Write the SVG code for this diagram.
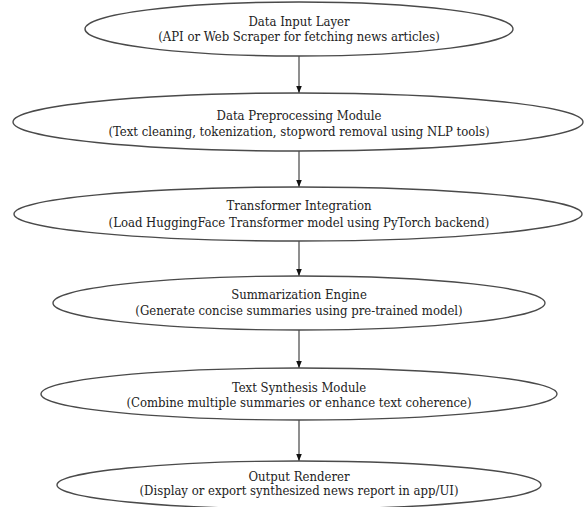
<svg xmlns="http://www.w3.org/2000/svg" width="584" height="507" viewBox="0 0 584 507">
<defs>
<style>
.node ellipse{fill:#fff;stroke:#4a4a4a;stroke-width:1.4}
.node text{font-family:"DejaVu Serif","Liberation Serif",serif;font-stretch:condensed;font-size:13px;fill:#222;text-anchor:middle}
.edges line{stroke:#333;stroke-width:1.1}
</style>
<marker id="ah" viewBox="0 0 10 10" refX="10" refY="5" markerWidth="7" markerHeight="7" markerUnits="userSpaceOnUse" orient="auto">
<path d="M0,1 L10,5 L0,9 Z" fill="#111"/>
</marker>
</defs>
<rect width="584" height="507" fill="#fff"/>
<g class="edges">
<line x1="299" y1="56" x2="299" y2="93" marker-end="url(#ah)"/>
<line x1="299" y1="151" x2="299" y2="187" marker-end="url(#ah)"/>
<line x1="299" y1="241" x2="299" y2="276" marker-end="url(#ah)"/>
<line x1="299" y1="330" x2="299" y2="368" marker-end="url(#ah)"/>
<line x1="299" y1="420" x2="299" y2="461" marker-end="url(#ah)"/>
</g>
<g id="n1" class="node">
<ellipse cx="299" cy="29" rx="214" ry="27"/>
<text x="299" y="25.5">Data Input Layer</text>
<text x="299" y="41">(API or Web Scraper for fetching news articles)</text>
</g>
<g id="n2" class="node">
<ellipse cx="298" cy="122" rx="285" ry="29"/>
<text x="299" y="119.5">Data Preprocessing Module</text>
<text x="299" y="136">(Text cleaning, tokenization, stopword removal using NLP tools)</text>
</g>
<g id="n3" class="node">
<ellipse cx="298" cy="214" rx="284" ry="27"/>
<text x="299" y="210">Transformer Integration</text>
<text x="299" y="226.5">(Load HuggingFace Transformer model using PyTorch backend)</text>
</g>
<g id="n4" class="node">
<ellipse cx="299" cy="303" rx="246" ry="27"/>
<text x="299" y="298.5">Summarization Engine</text>
<text x="299" y="314.5">(Generate concise summaries using pre-trained model)</text>
</g>
<g id="n5" class="node">
<ellipse cx="299" cy="394" rx="258" ry="26"/>
<text x="299" y="391.5">Text Synthesis Module</text>
<text x="299" y="406.5">(Combine multiple summaries or enhance text coherence)</text>
</g>
<g id="n6" class="node">
<ellipse cx="299" cy="485" rx="242" ry="24"/>
<text x="299" y="480.5">Output Renderer</text>
<text x="299" y="494.5">(Display or export synthesized news report in app/UI)</text>
</g>
</svg>
